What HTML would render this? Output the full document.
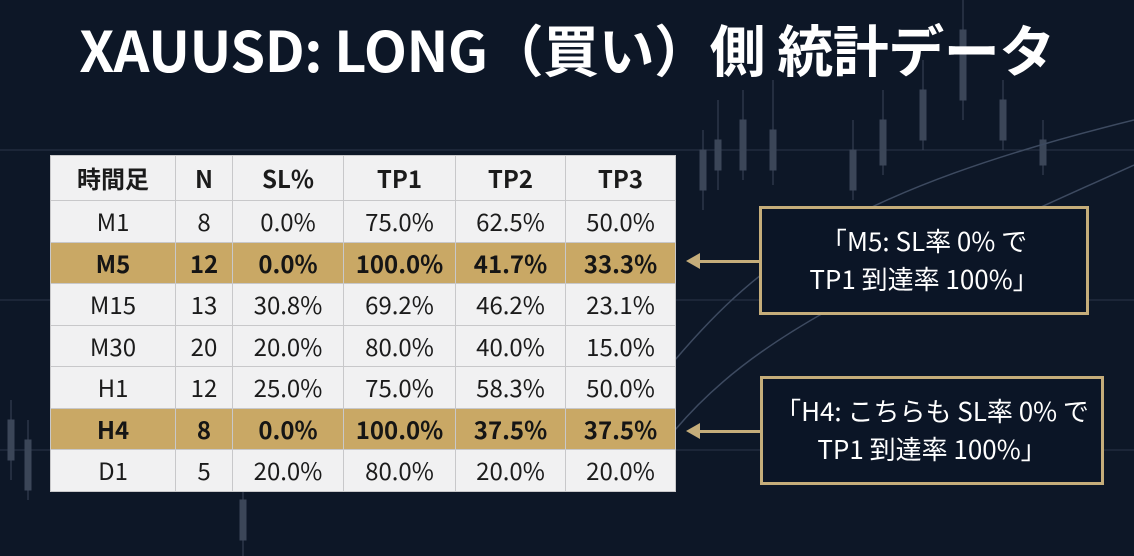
<!DOCTYPE html>
<html><head><meta charset="utf-8"><style>
body{margin:0;width:1134px;height:556px;overflow:hidden;background:#0d1727;font-family:"Liberation Sans","Noto Sans CJK JP",sans-serif;position:relative}
.title{position:absolute;left:0;width:1134px;top:14px;text-align:center;color:#fff;font-weight:bold;font-size:56px;font-family:"Noto Sans CJK JP","Liberation Sans",sans-serif;letter-spacing:-0.5px;line-height:70px}
table{position:absolute;left:50px;top:155px;border-collapse:collapse;background:#f1f1f2;font-family:"Noto Sans CJK JP","Liberation Sans",sans-serif}
td{border:1.5px solid #c8c8ca;text-align:center;font-size:24px;color:#1b1b1b;height:40.5px;padding:0;line-height:40px}
tr.h td{font-weight:bold;height:44px}
tr.g td{background:#c9a865;font-weight:bold;color:#151515}
.box{position:absolute;border:3px solid #c5ad7a;background:#0b1526;color:#fff;font-family:"Noto Sans CJK JP","Liberation Sans",sans-serif;font-size:26px;text-align:center;line-height:38px;box-sizing:border-box;padding-top:13px}
.arr{position:absolute;height:3px;background:#c5ad7a}
.tri{position:absolute;width:0;height:0;border-top:8px solid transparent;border-bottom:8px solid transparent;border-right:14px solid #c5ad7a}
</style></head><body>
<svg width="1134" height="556" style="position:absolute;left:0;top:0">
<g stroke="#2a3648" stroke-width="1">
<line x1="0" y1="150" x2="1134" y2="150"/><line x1="0" y1="300" x2="1134" y2="300"/><line x1="0" y1="450" x2="1134" y2="450"/>
</g>
<g fill="#3b4658" stroke="#3b4658">
<rect x="700" y="150" width="6" height="40"/><line x1="703" y1="130" x2="703" y2="210"/>
<rect x="715" y="140" width="6" height="30"/><line x1="718" y1="100" x2="718" y2="190"/>
<rect x="740" y="120" width="6" height="50"/><line x1="743" y1="90" x2="743" y2="180"/>
<rect x="770" y="130" width="6" height="40"/><line x1="773" y1="80" x2="773" y2="185"/>
<rect x="850" y="150" width="6" height="40"/><line x1="853" y1="120" x2="853" y2="200"/>
<rect x="880" y="120" width="6" height="45"/><line x1="883" y1="90" x2="883" y2="175"/>
<rect x="920" y="90" width="6" height="50"/><line x1="923" y1="60" x2="923" y2="150"/>
<rect x="960" y="30" width="6" height="70"/><line x1="963" y1="0" x2="963" y2="120"/>
<rect x="1000" y="100" width="6" height="40"/><line x1="1003" y1="80" x2="1003" y2="150"/>
<rect x="1040" y="140" width="6" height="25"/><line x1="1043" y1="120" x2="1043" y2="175"/>
<rect x="8" y="420" width="6" height="40"/><line x1="11" y1="400" x2="11" y2="480"/>
<rect x="25" y="440" width="6" height="50"/><line x1="28" y1="420" x2="28" y2="500"/>
<rect x="240" y="500" width="6" height="40"/><line x1="243" y1="490" x2="243" y2="556"/>
</g>
<path d="M675 360 C760 260 850 190 1134 120" stroke="#3d4a60" fill="none" stroke-width="1.5"/>
<path d="M675 430 C760 330 880 280 1134 165" stroke="#3d4a60" fill="none" stroke-width="1.5"/>
</svg>
<div class="title">XAUUSD: LONG（買い）側 統計データ</div>
<table>
<colgroup><col style="width:125px"><col style="width:57px"><col style="width:111px"><col style="width:112px"><col style="width:110px"><col style="width:110px"></colgroup>
<tr class="h"><td>時間足</td><td>N</td><td>SL%</td><td>TP1</td><td>TP2</td><td>TP3</td></tr>
<tr><td>M1</td><td>8</td><td>0.0%</td><td>75.0%</td><td>62.5%</td><td>50.0%</td></tr>
<tr class="g"><td>M5</td><td>12</td><td>0.0%</td><td>100.0%</td><td>41.7%</td><td>33.3%</td></tr>
<tr><td>M15</td><td>13</td><td>30.8%</td><td>69.2%</td><td>46.2%</td><td>23.1%</td></tr>
<tr><td>M30</td><td>20</td><td>20.0%</td><td>80.0%</td><td>40.0%</td><td>15.0%</td></tr>
<tr><td>H1</td><td>12</td><td>25.0%</td><td>75.0%</td><td>58.3%</td><td>50.0%</td></tr>
<tr class="g"><td>H4</td><td>8</td><td>0.0%</td><td>100.0%</td><td>37.5%</td><td>37.5%</td></tr>
<tr><td>D1</td><td>5</td><td>20.0%</td><td>80.0%</td><td>20.0%</td><td>20.0%</td></tr>
</table>
<div class="tri" style="left:686px;top:253px"></div><div class="arr" style="left:698px;top:260px;width:62px"></div>
<div class="tri" style="left:686px;top:423px"></div><div class="arr" style="left:698px;top:430px;width:64px"></div>
<div class="box" style="left:759px;top:206px;width:330px;height:109px">「M5: SL率 0% で<br>TP1 到達率 100%」</div>
<div class="box" style="left:760px;top:376px;width:344px;height:109px">「H4: こちらも SL率 0% で<br>TP1 到達率 100%」</div>
</body></html>
